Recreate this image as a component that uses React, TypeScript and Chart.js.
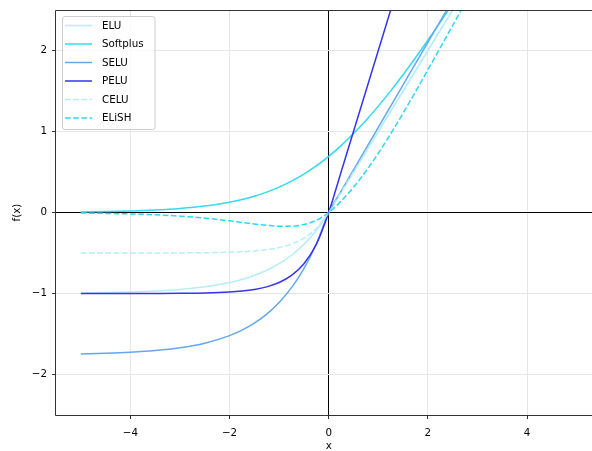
import React, { useEffect, useRef } from 'react';
import { Chart, registerables } from 'chart.js';
Chart.register(...registerables);

const X = [-5, -4.5, -4, -3.5, -3, -2.5, -2, -1.75, -1.5, -1.25, -1, -0.75, -0.5, -0.25, 0, 0.25, 0.5, 0.75, 1, 1.25, 1.5, 1.75, 2, 2.25, 2.5, 2.75, 3];
const ELU = [-0.9933, -0.9889, -0.9817, -0.9698, -0.9502, -0.9179, -0.8647, -0.8262, -0.7769, -0.7135, -0.6321, -0.5276, -0.3935, -0.2212, 0, 0.25, 0.5, 0.75, 1, 1.25, 1.5, 1.75, 2, 2.25, 2.5, 2.75, 3];
const SOFTPLUS = [0.0067, 0.011, 0.0182, 0.0298, 0.0486, 0.0789, 0.1269, 0.1602, 0.2014, 0.2519, 0.3133, 0.3869, 0.4741, 0.5759, 0.6931, 0.8259, 0.9741, 1.1369, 1.3133, 1.5019, 1.7014, 1.9102, 2.1269, 2.3502, 2.5789, 2.812, 3.0486];
const SELU = [-1.7463, -1.7386, -1.7259, -1.705, -1.6706, -1.6138, -1.5202, -1.4526, -1.3658, -1.2544, -1.1113, -0.9276, -0.6918, -0.3889, 0, 0.2627, 0.5254, 0.788, 1.0507, 1.3134, 1.5761, 1.8387, 2.1014, 2.3641, 2.6268, 2.8894, 3.1521];
const PELU = [-1.0, -0.9999, -0.9997, -0.9991, -0.9975, -0.9933, -0.9817, -0.9698, -0.9502, -0.9179, -0.8647, -0.7769, -0.6321, -0.3935, 0, 0.5, 1, 1.5, 2, 2.5, 3, 3.5, 4, 4.5, 5, 5.5, 6];
const CELU = [-0.5, -0.4999, -0.4998, -0.4995, -0.4988, -0.4966, -0.4908, -0.4849, -0.4751, -0.459, -0.4323, -0.3884, -0.3161, -0.1967, 0, 0.25, 0.5, 0.75, 1, 1.25, 1.5, 1.75, 2, 2.25, 2.5, 2.75, 3];
const ELISH = [-0.0066, -0.0109, -0.0177, -0.0284, -0.0451, -0.0696, -0.1031, -0.1223, -0.1417, -0.1589, -0.17, -0.1693, -0.1486, -0.0968, 0, 0.1405, 0.3112, 0.5094, 0.7311, 0.9716, 1.2264, 1.4909, 1.7616, 2.0355, 2.3104, 2.5848, 2.8577];

const X_TICKS = [-4, -2, 0, 2, 4];
const Y_TICKS = [-2, -1, 0, 1, 2];
const X_MIN = -5.5;
const X_MAX = 5.31;
const Y_MIN = -2.5;
const Y_MAX = 2.5;
const X_TITLE = 'x';
const Y_TITLE = 'f(x)';

const FONT = '"DejaVu Sans", sans-serif';
const FS = 10.3;

const SERIES = [
  { label: 'ELU', data: ELU, color: '#b5eef7', dash: [] as number[] },
  { label: 'Softplus', data: SOFTPLUS, color: '#33d9f2', dash: [] as number[] },
  { label: 'SELU', data: SELU, color: '#63a8ef', dash: [] as number[] },
  { label: 'PELU', data: PELU, color: '#3535ef', dash: [] as number[] },
  { label: 'CELU', data: CELU, color: '#b5eef7', dash: [5.7, 2.5] },
  { label: 'ELiSH', data: ELISH, color: '#2ed8f2', dash: [5.7, 2.5] },
];

const fmt = (v: number) => (v < 0 ? '\u2212' + Math.abs(v) : String(v));

const framePlugin = {
  id: 'frame',
  afterDatasetsDraw(chart: any) {
    const { ctx, chartArea: a } = chart;
    ctx.save();
    ctx.strokeStyle = '#333333';
    ctx.lineWidth = 1;
    const l = Math.round(a.left) - 0.5;
    const t = Math.round(a.top) + 0.5;
    const b = Math.round(a.bottom) + 0.5;
    const r = a.right + 2;
    ctx.beginPath();
    ctx.moveTo(r, t);
    ctx.lineTo(l, t);
    ctx.lineTo(l, b);
    ctx.lineTo(r, b);
    ctx.stroke();
    // x-axis title, centred on the full axes span (symmetric about 0)
    ctx.font = `${FS}px ${FONT}`;
    ctx.fillStyle = '#000000';
    ctx.textAlign = 'center';
    ctx.textBaseline = 'middle';
    ctx.fillText(X_TITLE, chart.scales.x.getPixelForValue(0), 446);
    ctx.restore();
  },
};

const legendPlugin = {
  id: 'boxLegend',
  afterDraw(chart: any) {
    const { ctx } = chart;
    ctx.save();
    const bx = 62.5, by = 16.5, bw = 92.5, bh = 113, r = 2.5;
    ctx.beginPath();
    ctx.moveTo(bx + r, by);
    ctx.lineTo(bx + bw - r, by);
    ctx.quadraticCurveTo(bx + bw, by, bx + bw, by + r);
    ctx.lineTo(bx + bw, by + bh - r);
    ctx.quadraticCurveTo(bx + bw, by + bh, bx + bw - r, by + bh);
    ctx.lineTo(bx + r, by + bh);
    ctx.quadraticCurveTo(bx, by + bh, bx, by + bh - r);
    ctx.lineTo(bx, by + r);
    ctx.quadraticCurveTo(bx, by, bx + r, by);
    ctx.closePath();
    ctx.fillStyle = 'rgba(255,255,255,0.8)';
    ctx.fill();
    ctx.strokeStyle = '#cccccc';
    ctx.lineWidth = 1;
    ctx.stroke();
    ctx.font = `${FS}px ${FONT}`;
    ctx.textBaseline = 'middle';
    ctx.textAlign = 'left';
    SERIES.forEach((s, i) => {
      const y = 25.5 + i * 18.5;
      ctx.beginPath();
      ctx.setLineDash(s.dash);
      ctx.strokeStyle = s.color;
      ctx.lineWidth = 1.5;
      ctx.moveTo(65, y);
      ctx.lineTo(92, y);
      ctx.stroke();
      ctx.setLineDash([]);
      ctx.fillStyle = '#000000';
      ctx.fillText(s.label, 102, y + 0.5);
    });
    ctx.restore();
  },
};

export default function App() {
  const ref = useRef<HTMLCanvasElement>(null);
  useEffect(() => {
    if (!ref.current) return;
    const gridColor = (c: any) => (c.tick && c.tick.value === 0 ? '#000000' : '#e6e6e6');
    const chart = new Chart(ref.current, {
      type: 'line',
      data: {
        datasets: SERIES.map((s, i) => ({
          label: s.label,
          data: X.map((x, j) => ({ x, y: s.data[j] })),
          borderColor: s.color,
          backgroundColor: s.color,
          borderWidth: 1.5,
          borderDash: s.dash,
          pointRadius: 0,
          fill: false,
          cubicInterpolationMode: 'monotone',
          clip: 0,
          order: 6 - i,
        })),
      },
      options: {
        animation: false,
        responsive: false,
        maintainAspectRatio: false,
        layout: { padding: { top: 10, right: 0, left: 0, bottom: 0 } },
        plugins: { legend: { display: false }, tooltip: { enabled: false } },
        scales: {
          x: {
            type: 'linear',
            min: X_MIN,
            max: X_MAX,
            afterBuildTicks: (s: any) => { s.ticks = X_TICKS.map((v) => ({ value: v })); },
            afterFit: (s: any) => { s.height = 36; s.paddingLeft = 0; s.paddingRight = 0; },
            grid: { color: gridColor, lineWidth: 1, drawTicks: true, tickLength: 4, tickColor: '#333333', tickWidth: 1 },
            border: { display: false },
            ticks: { callback: (v: any) => fmt(Number(v)), color: '#000000', font: { family: FONT, size: FS }, padding: 8, maxRotation: 0 },
            title: { display: false },
          },
          y: {
            type: 'linear',
            min: Y_MIN,
            max: Y_MAX,
            afterBuildTicks: (s: any) => { s.ticks = Y_TICKS.map((v) => ({ value: v })); },
            afterFit: (s: any) => { s.width = 56; s.paddingTop = 0; s.paddingBottom = 0; },
            grid: { color: gridColor, lineWidth: 1, drawTicks: true, tickLength: 4, tickColor: '#333333', tickWidth: 1 },
            border: { display: false },
            ticks: { callback: (v: any) => fmt(Number(v)), color: '#000000', font: { family: FONT, size: FS }, padding: 5 },
            title: { display: true, text: Y_TITLE, color: '#000000', font: { family: FONT, size: FS }, padding: { top: 11, bottom: 0 } },
          },
        },
      },
      plugins: [framePlugin, legendPlugin],
    } as any);
    return () => chart.destroy();
  }, []);
  return (
    <div style={{ position: 'fixed', left: 0, top: 0, width: 592, height: 451, overflow: 'hidden', background: '#ffffff' }}>
      <canvas ref={ref} width={592} height={451} style={{ display: 'block', width: 592, height: 451 }} />
    </div>
  );
}
